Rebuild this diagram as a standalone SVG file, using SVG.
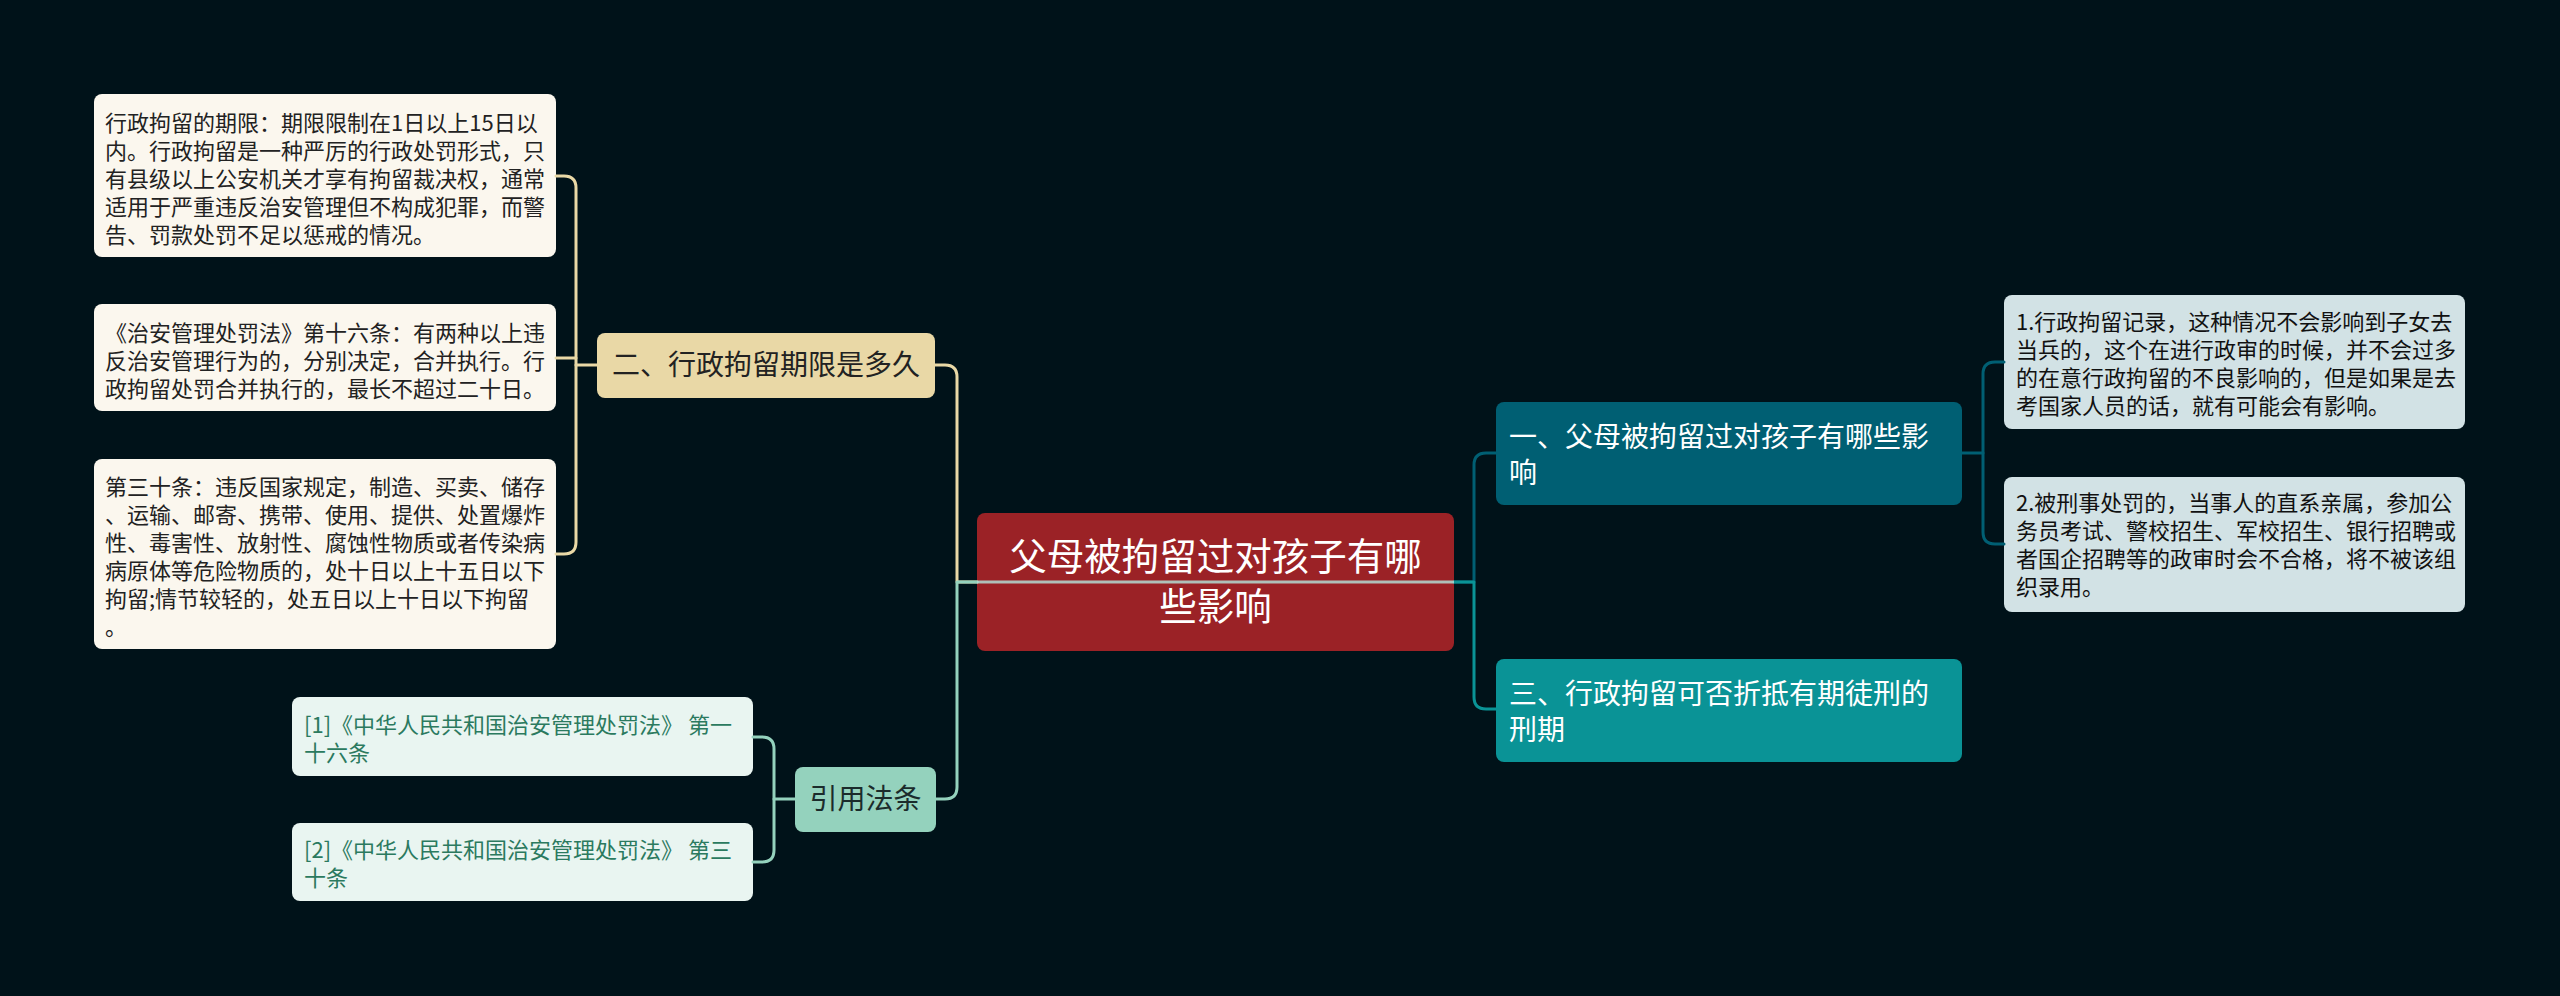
<svg xmlns="http://www.w3.org/2000/svg" width="2560" height="996" viewBox="0 0 2560 996">
<style>
text{font-family:"Noto Sans CJK SC","Noto Sans",sans-serif;}
.t22{font-size:22px;fill:#222;}
.cite{font-size:22px;fill:#2b7a5f;}
.t28{font-size:28px;}
.c{fill:none;stroke-width:3;stroke-linecap:round;stroke-linejoin:round;}
.beige{stroke:#e9d8a6;}
.mint{stroke:#94d2bd;}
.dteal{stroke:#005f73;}
.teal{stroke:#0a9396;}
</style>
<rect x="0" y="0" width="2560" height="996" fill="#001219"/>

<g id="center">
<rect x="977" y="513" width="477" height="138" rx="8" fill="#9b2226"/>
<text x="1215.5" y="570" font-size="37.5" fill="#fff" text-anchor="middle">父母被拘留过对孩子有哪</text>
<text x="1215.5" y="620" font-size="37.5" fill="#fff" text-anchor="middle">些影响</text>
</g>

<g id="node-er">
<rect x="597" y="333" width="338" height="65" rx="8" fill="#e9d8a6"/>
<text x="766" y="375" class="t28" fill="#222" text-anchor="middle">二、行政拘留期限是多久</text>
</g>

<g id="box-l1">
<rect x="94" y="94" width="462" height="163" rx="8" fill="#fbf7ee"/>
<text class="t22"><tspan x="105" y="131">行政拘留的期限：期限限制在1日以上15日以</tspan><tspan x="105" y="159">内。行政拘留是一种严厉的行政处罚形式，只</tspan><tspan x="105" y="187">有县级以上公安机关才享有拘留裁决权，通常</tspan><tspan x="105" y="215">适用于严重违反治安管理但不构成犯罪，而警</tspan><tspan x="105" y="243">告、罚款处罚不足以惩戒的情况。</tspan></text>
</g>

<g id="box-l2">
<rect x="94" y="304" width="462" height="107" rx="8" fill="#fbf7ee"/>
<text class="t22"><tspan x="105" y="341">《治安管理处罚法》第十六条：有两种以上违</tspan><tspan x="105" y="369">反治安管理行为的，分别决定，合并执行。行</tspan><tspan x="105" y="397">政拘留处罚合并执行的，最长不超过二十日。</tspan></text>
</g>

<g id="box-l3">
<rect x="94" y="459" width="462" height="190" rx="8" fill="#fbf7ee"/>
<text class="t22"><tspan x="105" y="495">第三十条：违反国家规定，制造、买卖、储存</tspan><tspan x="105" y="523">、运输、邮寄、携带、使用、提供、处置爆炸</tspan><tspan x="105" y="551">性、毒害性、放射性、腐蚀性物质或者传染病</tspan><tspan x="105" y="579">病原体等危险物质的，处十日以上十五日以下</tspan><tspan x="105" y="607">拘留;情节较轻的，处五日以上十日以下拘留</tspan><tspan x="105" y="635">。</tspan></text>
</g>

<g id="node-cite">
<rect x="795" y="767" width="141" height="65" rx="8" fill="#94d2bd"/>
<text x="865.5" y="809" class="t28" fill="#1b2b2b" text-anchor="middle">引用法条</text>
</g>

<g id="cite-1">
<rect x="292" y="697" width="461" height="79" rx="8" fill="#e9f5f1"/>
<text class="cite"><tspan x="304" y="733">[1]《中华人民共和国治安管理处罚法》 第一</tspan><tspan x="304" y="761">十六条</tspan></text>
</g>

<g id="cite-2">
<rect x="292" y="823" width="461" height="78" rx="8" fill="#e9f5f1"/>
<text class="cite"><tspan x="304" y="858">[2]《中华人民共和国治安管理处罚法》 第三</tspan><tspan x="304" y="886">十条</tspan></text>
</g>

<g id="node-yi">
<rect x="1496" y="402" width="466" height="103" rx="8" fill="#005f73"/>
<text class="t28" fill="#fff"><tspan x="1509" y="447">一、父母被拘留过对孩子有哪些影</tspan><tspan x="1509" y="483">响</tspan></text>
</g>

<g id="node-san">
<rect x="1496" y="659" width="466" height="103" rx="8" fill="#0a9396"/>
<text class="t28" fill="#fff"><tspan x="1509" y="704">三、行政拘留可否折抵有期徒刑的</tspan><tspan x="1509" y="740">刑期</tspan></text>
</g>

<g id="box-r1">
<rect x="2004" y="295" width="461" height="134" rx="8" fill="#d2e2e5"/>
<text class="t22" style="fill:#111"><tspan x="2016" y="330">1.行政拘留记录，这种情况不会影响到子女去</tspan><tspan x="2016" y="358">当兵的，这个在进行政审的时候，并不会过多</tspan><tspan x="2016" y="386">的在意行政拘留的不良影响的，但是如果是去</tspan><tspan x="2016" y="414">考国家人员的话，就有可能会有影响。</tspan></text>
</g>

<g id="box-r2">
<rect x="2004" y="477" width="461" height="135" rx="8" fill="#d2e2e5"/>
<text class="t22" style="fill:#111"><tspan x="2016" y="511">2.被刑事处罚的，当事人的直系亲属，参加公</tspan><tspan x="2016" y="539">务员考试、警校招生、军校招生、银行招聘或</tspan><tspan x="2016" y="567">者国企招聘等的政审时会不合格，将不被该组</tspan><tspan x="2016" y="595">织录用。</tspan></text>
</g>

<g id="connectors">
<path class="c beige" d="M977 582 H957 V377 Q957 365 945 365 H935"/>
<path class="c mint" d="M977 582 H957 V787 Q957 799 945 799 H936"/>
<path class="c dteal" d="M1454 582 H1474 V465 Q1474 453 1486 453 H1496"/>
<path class="c teal" d="M1454 582 H1474 V697 Q1474 709 1486 709 H1496"/>
<path d="M977 582 H1454" fill="none" stroke="#b3dcd3" stroke-width="3" opacity="0.85"/>
<path class="c beige" d="M597 365 H576"/>
<path class="c beige" d="M556 176 H564 Q576 176 576 188 V542 Q576 554 564 554 H556"/>
<path class="c beige" d="M556 358 H576"/>
<path class="c mint" d="M795 799 H774"/>
<path class="c mint" d="M753 737 H762 Q774 737 774 749 V850 Q774 862 762 862 H753"/>
<path class="c dteal" d="M1962 453 H1983"/>
<path class="c dteal" d="M2004 362 H1995 Q1983 362 1983 374 V532 Q1983 544 1995 544 H2004"/>
</g>
</svg>
